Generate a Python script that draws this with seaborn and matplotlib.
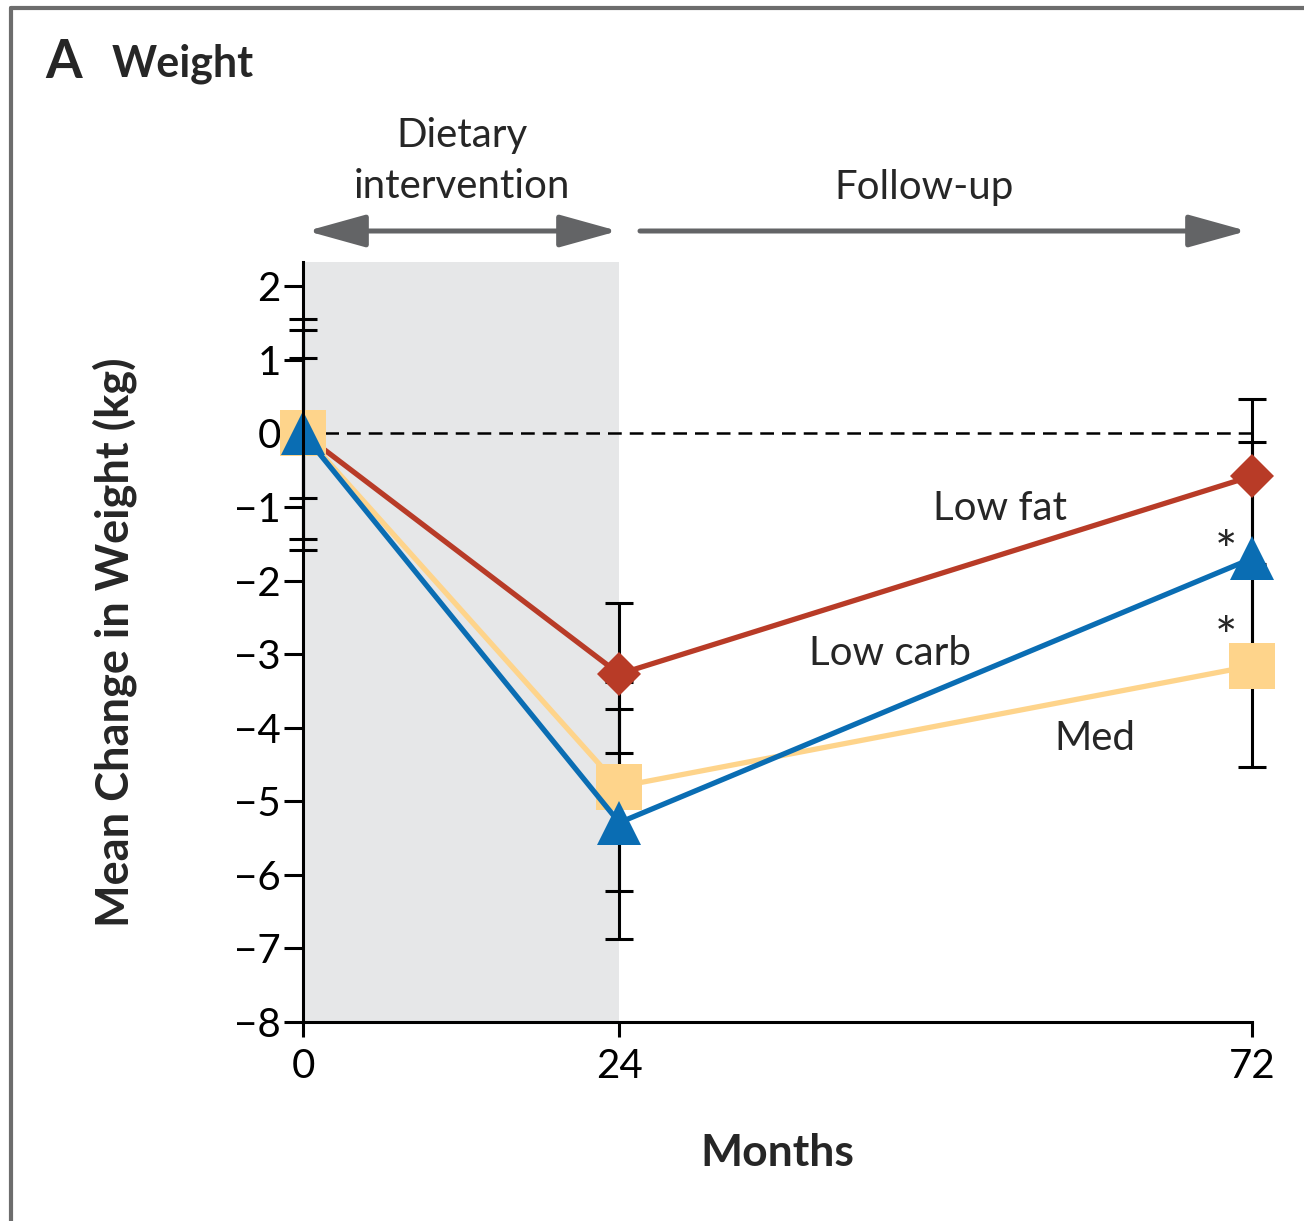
import matplotlib
matplotlib.use("Agg")
import matplotlib.pyplot as plt
from matplotlib.patches import FancyArrowPatch
from matplotlib.lines import Line2D
import seaborn as sns
import numpy as np

# ---------------- data ----------------
months = [0, 24, 72]
low_fat = [0.0, -3.27, -0.58]
low_carb = [0.0, -5.29, -1.70]
med = [0.0, -4.80, -3.16]

# error bar ends (lower, upper) per time point
low_fat_lo = [-0.88, -4.34, -1.80]
low_fat_hi = [1.02, -2.31, 0.47]
low_carb_lo = [-1.58, -6.87, -3.29]
low_carb_hi = [1.56, -3.74, -0.11]
med_lo = [-1.43, -6.22, -4.54]
med_hi = [1.40, -3.38, -1.78]

y_ticks = [-8, -7, -6, -5, -4, -3, -2, -1, 0, 1, 2]
x_ticks = [0, 24, 72]

# ---------------- style ----------------
sns.set_style("ticks")
plt.rcParams["font.family"] = ["Lato", "DejaVu Sans"]
plt.rcParams["axes.unicode_minus"] = True

W, H = 1304, 1221
fig = plt.figure(figsize=(W / 100, H / 100), dpi=100)
fig.patch.set_facecolor("white")


def fx(x):
    return x / W


def fy(y):
    return 1 - y / H


ax = fig.add_axes([fx(303), fy(1022), fx(1252) - fx(303), fy(262) - fy(1022)])
ax.set_facecolor("white")

RED = "#B83B27"
BLUE = "#0A6DB3"
YEL = "#FED48B"

ax.axvspan(0, 24, color="#E6E7E8", zorder=0, lw=0)
ax.plot([0, 72], [0, 0], color="black", lw=1.8, ls=(0, (5.5, 3.2)), zorder=1, clip_on=False)

# error bars
for lo, hi, vals in [(low_fat_lo, low_fat_hi, low_fat),
                     (low_carb_lo, low_carb_hi, low_carb),
                     (med_lo, med_hi, med)]:
    v = np.array(vals)
    yerr = [v - np.array(lo), np.array(hi) - v]
    eb = ax.errorbar(months, v, yerr=yerr, fmt="none", ecolor="black",
                     elinewidth=2.2, capsize=10, capthick=2.2, zorder=2)
    for art in list(eb.lines[1]) + list(eb.lines[2]):
        art.set_clip_on(False)

sns.lineplot(x=months, y=low_fat, ax=ax, color=RED, lw=3.8, marker="D",
             markersize=22, markeredgewidth=0, clip_on=False, zorder=3)
sns.lineplot(x=months, y=med, ax=ax, color=YEL, lw=3.8, marker="s",
             markersize=33, markeredgewidth=0, clip_on=False, zorder=4)
sns.lineplot(x=months, y=low_carb, ax=ax, color=BLUE, lw=3.8, marker="^",
             markersize=31, markeredgewidth=0, clip_on=False, zorder=5)

ax.set_xlim(0, 72)
ax.set_ylim(-8, 2.33)
ax.set_xticks(x_ticks)
ax.set_xticklabels([str(t) for t in x_ticks])
ax.set_yticks(y_ticks)
ax.set_yticklabels([("\u2212" + str(-t)) if t < 0 else str(t) for t in y_ticks])
ax.tick_params(axis="y", direction="out", length=14, width=2.2, pad=2,
               labelsize=29, colors="black")
ax.tick_params(axis="x", direction="out", length=11, width=2.2, pad=8,
               labelsize=29, colors="black")
ax.spines["top"].set_visible(False)
ax.spines["right"].set_visible(False)
for s in ["left", "bottom"]:
    ax.spines[s].set_linewidth(2.2)
    ax.spines[s].set_color("black")
    ax.spines[s].set_zorder(6)

ax.set_xlabel("Months", fontsize=32, fontweight="bold", labelpad=34)
ax.set_ylabel("Mean Change in Weight (kg)", fontsize=32.5, fontweight="bold", labelpad=70)

# series labels
ax.text(52.9, -1.02, "Low fat", fontsize=29, ha="center", va="center")
ax.text(44.5, -2.99, "Low carb", fontsize=29, ha="center", va="center")
ax.text(60.1, -4.15, "Med", fontsize=29, ha="center", va="center")
ax.text(70.0, -1.65, "*", fontsize=38, ha="center", va="center")
ax.text(70.0, -2.82, "*", fontsize=38, ha="center", va="center")

# header texts
fig.text(fx(45), fy(62), "A", fontsize=38, fontweight="bold", ha="left", va="center")
fig.text(fx(112), fy(64), "Weight", fontsize=31, fontweight="bold", ha="left", va="center")
fig.text(fx(462), fy(136), "Dietary", fontsize=29, ha="center", va="center")
fig.text(fx(462), fy(187), "intervention", fontsize=29, ha="center", va="center")
fig.text(fx(924), fy(187), "Follow-up", fontsize=29, ha="center", va="center")

ARROW = "#636466"
a1 = FancyArrowPatch((fx(307), fy(231)), (fx(618), fy(231)), transform=fig.transFigure,
                     arrowstyle="<|-|>,head_length=36,head_width=10", mutation_scale=1,
                     lw=3.6, color=ARROW, shrinkA=0, shrinkB=0)
a2 = FancyArrowPatch((fx(640), fy(231)), (fx(1247), fy(231)), transform=fig.transFigure,
                     arrowstyle="-|>,head_length=36,head_width=10", mutation_scale=1,
                     lw=3.6, color=ARROW, shrinkA=0, shrinkB=0)
fig.add_artist(a1)
fig.add_artist(a2)

# panel frame (top and left edges)
BORDER = "#6D6D6D"
fig.add_artist(Line2D([fx(11), 1], [fy(8), fy(8)], transform=fig.transFigure,
                      color=BORDER, lw=3))
fig.add_artist(Line2D([fx(11), fx(11)], [fy(8), 0], transform=fig.transFigure,
                      color=BORDER, lw=3))

fig.savefig("out.png", dpi=100, facecolor="white")
